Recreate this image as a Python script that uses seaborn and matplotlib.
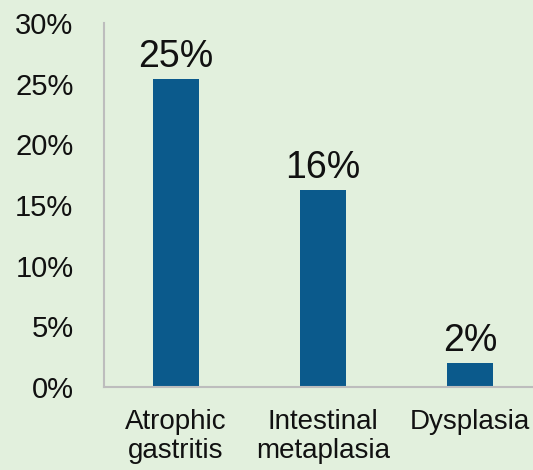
import matplotlib
matplotlib.use('Agg')
import matplotlib.pyplot as plt
from matplotlib.ticker import PercentFormatter
import seaborn as sns
import pandas as pd

# data
categories = ['Atrophic\ngastritis', 'Intestinal\nmetaplasia', 'Dysplasia']
prevalence = [25.4, 16.2, 2.0]
bar_labels = ['25%', '16%', '2%']

bg = '#e2f0dd'
bar_color = '#0b5a8c'

sns.set_theme(style='white')
plt.rcParams['font.family'] = ['Liberation Sans', 'DejaVu Sans']

df = pd.DataFrame({'category': categories, 'value': prevalence})

fig = plt.figure(figsize=(5.33, 4.70), dpi=100, facecolor=bg)
ax = fig.add_axes([104 / 533, 83 / 470, 1 - 104 / 533, 364 / 470])
ax.set_facecolor(bg)

sns.barplot(data=df, x='category', y='value', color=bar_color, width=0.31,
            saturation=1, linewidth=0, ax=ax)

ax.bar_label(ax.containers[0], labels=bar_labels, padding=3, fontsize=27,
             color='#111111')

ax.set_ylim(0, 30)
ax.set_xlim(-0.49, 2.43)
ax.set_yticks(range(0, 31, 5))
ax.yaxis.set_major_formatter(PercentFormatter(decimals=0))
ax.set_xlabel('')
ax.set_ylabel('')

ax.tick_params(axis='y', length=0, pad=22, labelsize=21, labelcolor='#111111')
ax.tick_params(axis='x', length=0, pad=16, labelsize=20, labelcolor='#111111')
for lbl in ax.get_xticklabels():
    lbl.set_linespacing(1.15)

for side in ['top', 'right']:
    ax.spines[side].set_visible(False)
for side in ['left', 'bottom']:
    ax.spines[side].set_color('#bdbdbd')
    ax.spines[side].set_linewidth(1.5)

fig.savefig('out.png', dpi=100, facecolor=bg)
plt.close(fig)
